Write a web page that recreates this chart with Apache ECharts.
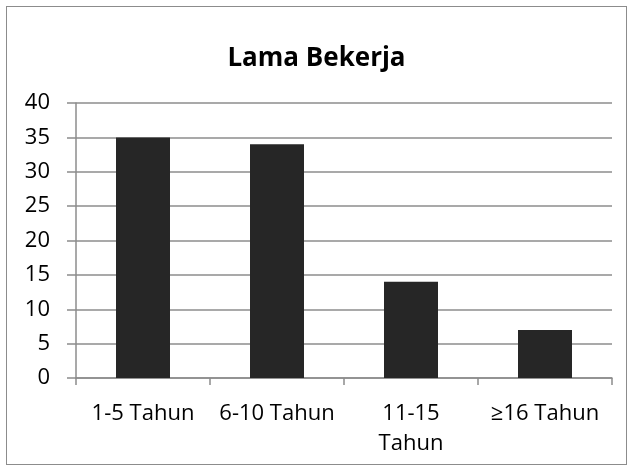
<!DOCTYPE html>
<html>
<head>
<meta charset="utf-8">
<script src="https://cdn.jsdelivr.net/npm/echarts@6/dist/echarts.min.js"></script>
<style>
  html, body { margin: 0; padding: 0; background: #fff; }
  #frame { position: absolute; left: 6px; top: 6px; width: 619px; height: 457px; border: 1.5px solid #8c8c8c; }
  #chart { position: absolute; left: 0; top: 0; width: 633px; height: 471px; }
</style>
</head>
<body>
<div id="frame"></div>
<div id="chart"></div>
<script>
// data
var categories = ['1-5 Tahun', '6-10 Tahun', '11-15\nTahun', '≥16 Tahun']
var values = [35, 34, 14, 7]
var yTicks = [0, 5, 10, 15, 20, 25, 30, 35, 40]

var chart = echarts.init(document.getElementById('chart'))
var font = '"Open Sans", Lato, sans-serif'
var option = {
  animation: false,
  title: {
    text: 'Lama Bekerja',
    left: 'center',
    top: 41,
    textStyle: { fontFamily: font, fontSize: 26, fontWeight: 'bold', color: '#000' }
  },
  grid: { left: 76, right: 21, top: 103, bottom: 93 },
  xAxis: {
    type: 'category',
    data: categories,
    axisLine: { show: true, lineStyle: { color: '#8c8c8c', width: 1.5 } },
    axisTick: { show: true, length: 7, alignWithLabel: false, lineStyle: { color: '#8c8c8c', width: 1.5 } },
    axisLabel: { fontFamily: font, fontSize: 22, color: '#000', margin: 21, lineHeight: 30, interval: 0 }
  },
  yAxis: {
    type: 'value',
    min: yTicks[0],
    max: yTicks[yTicks.length - 1],
    interval: 5,
    axisLine: { show: true, lineStyle: { color: '#8c8c8c', width: 1.5 } },
    axisTick: { show: true, length: 9, lineStyle: { color: '#8c8c8c', width: 1.5 } },
    axisLabel: { fontFamily: font, fontSize: 22, color: '#000', margin: 26 },
    splitLine: { show: true, lineStyle: { color: '#8c8c8c', width: 1.5 } }
  },
  series: [
    {
      type: 'bar',
      data: values,
      barWidth: 54,
      itemStyle: { color: '#262626' }
    }
  ]
}
chart.setOption(option, true)
</script>
</body>
</html>
